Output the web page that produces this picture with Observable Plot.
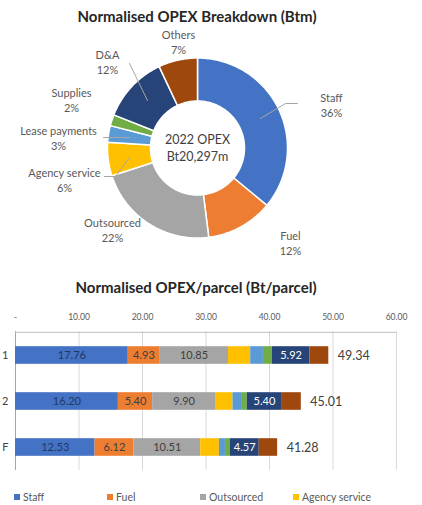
<!DOCTYPE html>
<html><head><meta charset="utf-8">
<script src="https://cdn.jsdelivr.net/npm/d3@7"></script>
<script src="https://cdn.jsdelivr.net/npm/@observablehq/plot@0.6"></script>
<style>
body{margin:0;width:422px;height:505px;overflow:hidden;background:#fff;font-family:Lato,sans-serif;position:relative}
.title{position:absolute;left:0;width:394px;text-align:center;font-weight:bold;font-size:15px;color:#262626;line-height:18px}
#pie{position:absolute;left:0;top:0}
#bar{position:absolute;left:0;top:300px}
#legend{position:absolute;left:14px;top:490px;font-size:10.5px;color:#595959;white-space:nowrap;line-height:14px}
.item{display:inline-block;width:93px}
.sw{display:inline-block;width:6px;height:6px;margin-right:3px;vertical-align:1px}
</style></head><body>
<div class="title" style="top:7px">Normalised OPEX Breakdown (Btm)</div>
<div id="pie"></div>
<div class="title" style="top:278px;width:392px">Normalised OPEX/parcel (Bt/parcel)</div>
<div id="bar"></div>
<div id="legend"></div>
<script>
// ---- data ----
const categories = ["Staff","Fuel","Outsourced","Agency service","Lease payments","Supplies","D&A","Others"];
const colors = ["#4472C4","#ED7D31","#A5A5A5","#FFC000","#5B9BD5","#70AD47","#264478","#9E480E"];
const pieShare = [36,12,22,6,3,2,12,7];
const pieCenterText = ["2022 OPEX","Bt20,297m"];
const rowLabels = ["1","2","F"]; // row labels as visible (cropped) in the source image
const staff = [17.76,16.20,12.53];
const fuel = [4.93,5.40,6.12];
const outsourced = [10.85,9.90,10.51];
const agency = [3.50,2.75,2.95];
const lease = [2.00,1.35,0.95];
const supplies = [1.40,0.90,0.75];
const da = [5.92,5.40,4.57];
const others = [2.98,3.11,2.90];
const totals = [49.34,45.01,41.28];
const xTicks = [0,10,20,30,40,50,60];
const legendShown = ["Staff","Fuel","Outsourced","Agency service"];

// ---- layout (pixels) ----
const PW = 422, PH = 262, cx = 197, cy = 147.5, R = 90, r = 47;
const labelPos = [[331,104.5],[290,242],[112,229.5],[64,179],[58,137.5],[71,99.5],[107,61.5],[178,41.5]];
const leaders = [
  [[260,118],[285,103],[297,103]],
  [[147,100],[129,63]],
  [[103,137],[129,137]],
  [[129,157],[115,176],[104,176]]
];

// ---- donut ----
const arcs = d3.pie().sort(null).value(d => d)(pieShare);
const poly = [];
arcs.forEach((a, i) => {
  const cat = categories[i];
  const n = Math.max(4, Math.ceil((a.endAngle - a.startAngle) / 0.02));
  const pts = [];
  for (let k = 0; k <= n; k++) { const t = a.startAngle + (a.endAngle - a.startAngle) * k / n; pts.push([cx + R*Math.sin(t), cy - R*Math.cos(t)]); }
  for (let k = n; k >= 0; k--) { const t = a.startAngle + (a.endAngle - a.startAngle) * k / n; pts.push([cx + r*Math.sin(t), cy - r*Math.cos(t)]); }
  pts.push(pts[0]);
  pts.forEach(p => poly.push({cat, x: p[0], y: p[1]}));
});
const pieLabels = categories.map((c, i) => ({x: labelPos[i][0], y: labelPos[i][1], text: c + "\n" + pieShare[i] + "%"}));
const leaderPts = leaders.flatMap((l, i) => l.map(p => ({id: i, x: p[0], y: p[1]})));

const pie = Plot.plot({
  width: PW, height: PH, margin: 0,
  x: {domain: [0, PW], range: [0, PW], axis: null},
  y: {domain: [0, PH], range: [0, PH], axis: null},
  color: {domain: categories, range: colors},
  style: {fontFamily: "Lato, sans-serif", background: "transparent"},
  marks: [
    Plot.line(poly, {x: "x", y: "y", z: "cat", fill: "cat", stroke: "white", strokeWidth: 1.5, curve: "linear"}),
    Plot.line(leaderPts, {x: "x", y: "y", z: "id", stroke: "#a6a6a6", strokeWidth: 1}),
    Plot.text(pieLabels, {x: "x", y: "y", text: "text", fontSize: 11, fill: "#595959", lineHeight: 1.35}),
    Plot.text([pieCenterText.join("\n")], {x: cx, y: cy - 1, text: d => d, fontSize: 12.5, fill: "#404040", lineHeight: 1.35})
  ]
});
document.getElementById("pie").appendChild(pie);

// ---- stacked bars ----
const series = [staff, fuel, outsourced, agency, lease, supplies, da, others];
const rows = [];
rowLabels.forEach((y, j) => categories.forEach((c, i) => rows.push({year: y, cat: c, value: series[i][j]})));
const totRows = rowLabels.map((y, j) => ({year: y, total: totals[j]}));
const lab = (cats) => d => cats.includes(d.cat) ? d.value.toFixed(2) : null;

const innerH = 139, bandHalf = innerH / rowLabels.length / 2;
const bar = Plot.plot({
  width: 422, height: 175, marginTop: 31, marginBottom: 5, marginLeft: 15, marginRight: 26,
  style: {fontFamily: "Lato, sans-serif", fontSize: "8.5px", color: "#595959", background: "transparent"},
  x: {domain: [0, 60], ticks: xTicks, tickFormat: d => d === 0 ? "-" : d.toFixed(2), axis: "top", tickSize: 0, tickPadding: 12, label: null},
  y: {domain: rowLabels, padding: 0, label: null, axis: null},
  color: {domain: categories, range: colors},
  marks: [
    Plot.ruleX(xTicks, {stroke: "#d9d9d9"}),
    Plot.ruleX([0], {stroke: "#a6a6a6"}),
    Plot.ruleY([rowLabels[0]], {x1: 0, x2: 60, stroke: "#bfbfbf", dy: -bandHalf}),
    Plot.barX(rows, Plot.stackX({y: "year", x: "value", fill: "cat", insetTop: 14.2, insetBottom: 14.2})),
    Plot.text(rows, Plot.stackX({y: "year", x: "value", text: lab(["Staff"]), fill: "#1f3864", fontSize: 11})),
    Plot.text(rows, Plot.stackX({y: "year", x: "value", text: lab(["Fuel","Outsourced"]), fill: "#404040", fontSize: 11})),
    Plot.text(rows, Plot.stackX({y: "year", x: "value", text: lab(["D&A"]), fill: "white", fontSize: 11})),
    Plot.text(totRows, {x: "total", y: "year", text: d => d.total.toFixed(2), dx: 9, textAnchor: "start", fontSize: 12.5, fill: "#404040"}),
    Plot.text(totRows, {x: 0, y: "year", text: "year", dx: -7, textAnchor: "end", fontSize: 11, fill: "#404040"})
  ]
});
document.getElementById("bar").appendChild(bar);

// ---- legend ----
const leg = document.getElementById("legend");
legendShown.forEach(c => {
  const it = document.createElement("span"); it.className = "item";
  const sw = document.createElement("span"); sw.className = "sw"; sw.style.background = colors[categories.indexOf(c)];
  it.appendChild(sw); it.appendChild(document.createTextNode(c)); leg.appendChild(it);
});
</script>
</body></html>
